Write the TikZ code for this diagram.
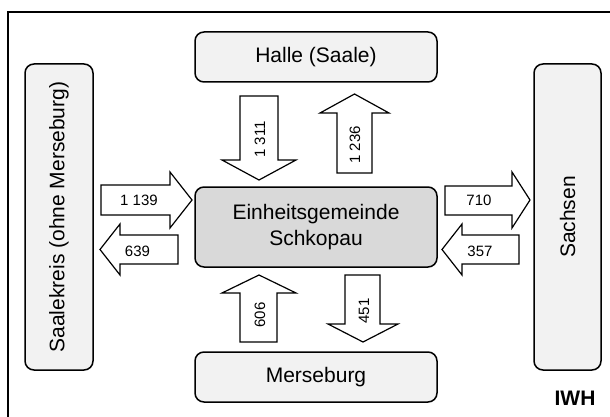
\documentclass[tikz,border=0pt]{standalone}
\usepackage{fontspec}
\setmainfont{Liberation Sans}
\usepackage{xcolor}
\usepackage{tikz}
\definecolor{boxfill}{HTML}{F2F2F2}
\definecolor{hubfill}{HTML}{D9D9D9}
\tikzset{
  region/.style={draw=black, line width=1.5pt, rounded corners=9pt, fill=boxfill, inner sep=0pt, font=\fontsize{21}{25}\selectfont},
  hub/.style={region, fill=hubfill, align=center, font=\fontsize{21}{26}\selectfont},
  flow/.style={draw=black, line width=1.2pt, fill=white, line join=miter},
  num/.style={inner sep=0pt, font=\fontsize{15}{17}\selectfont},
}

\begin{document}
\begin{tikzpicture}[x=1pt,y=-1pt]
  \useasboundingbox (0,0) rectangle (610,417);
  \draw[line width=1.5pt] (8,417) -- (8,12) -- (610,12);
  % regions
  \node[region, minimum width=242pt, minimum height=50pt] (halle) at (316,57) {Halle (Saale)};
  \node[hub, minimum width=242pt, minimum height=80pt] (schkopau) at (316,227) {Einheitsgemeinde\\Schkopau};
  \node[region, minimum width=242pt, minimum height=50pt] (merseburg) at (316,377) {Merseburg};
  \node[region, rotate=90, minimum width=306pt, minimum height=68pt] (saalekreis) at (59,217) {Saalekreis (ohne Merseburg)};
  \node[region, rotate=90, minimum width=306pt, minimum height=67pt] (sachsen) at (567.5,217) {Sachsen};
  % flows left
  \draw[flow] (101,185) -- (170,185) -- (170,172) -- (192,200) -- (170,228) -- (170,215) -- (101,215) -- cycle;
  \node[num] (f1139) at (139,200) {1 139};
  \draw[flow] (178,235) -- (120,235) -- (120,224) -- (100,249.5) -- (120,275) -- (120,264) -- (178,264) -- cycle;
  \node[num] (f639) at (137.5,251) {639};
  % flows right
  \draw[flow] (445,186) -- (512,186) -- (512,172) -- (530,200) -- (512,228) -- (512,215) -- (445,215) -- cycle;
  \node[num] (f710) at (479,200) {710};
  \draw[flow] (519,235) -- (462,235) -- (462,224) -- (442,249.5) -- (462,275) -- (462,264) -- (519,264) -- cycle;
  \node[num] (f357) at (480,251) {357};
  % flows top
  \draw[flow] (240,96) -- (240,160) -- (222,160) -- (259,180) -- (296,160) -- (278,160) -- (278,96) -- cycle;
  \node[num, rotate=90] (f1311) at (260,139.5) {1 311};
  \draw[flow] (337,173) -- (337,113) -- (320,113) -- (354.5,94) -- (389,113) -- (372,113) -- (372,173) -- cycle;
  \node[num, rotate=90] (f1236) at (355,145) {1 236};
  % flows bottom
  \draw[flow] (240,342) -- (240,293) -- (222,293) -- (259,275) -- (296,293) -- (277,293) -- (277,342) -- cycle;
  \node[num, rotate=90] (f606) at (260,315) {606};
  \draw[flow] (345,275) -- (345,324) -- (328,324) -- (363,342) -- (398,324) -- (380,324) -- (380,275) -- cycle;
  \node[num, rotate=90] (f451) at (364,311) {451};
  \node[font=\fontsize{21}{24}\selectfont\bfseries, inner sep=0pt] (iwh) at (575,398) {IWH};
\end{tikzpicture}
\end{document}
